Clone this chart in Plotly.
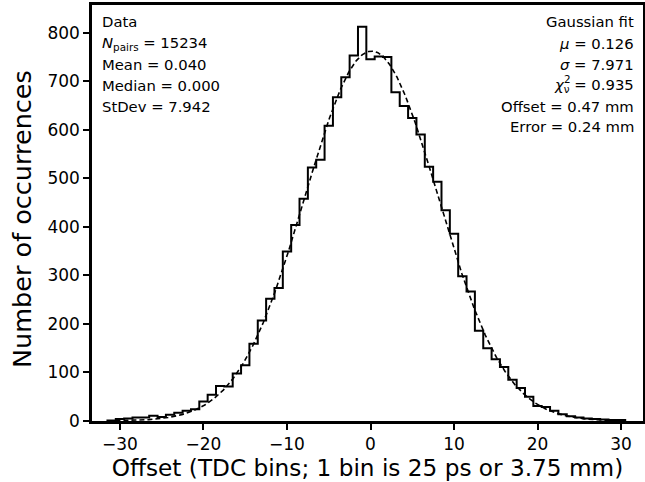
import numpy as np
import plotly.graph_objects as go

# ---- data ----
bin_centers = list(range(-31, 31))
counts = [1, 4, 5, 7, 7, 11, 8, 13, 17, 21, 24, 40, 54, 72, 71, 98, 115, 159, 207, 252,
          274, 349, 404, 458, 522, 538, 608, 667, 708, 753, 812, 745, 751, 750, 677, 649,
          624, 590, 524, 493, 434, 386, 298, 267, 186, 150, 127, 111, 85, 68, 50, 31,
          29, 21, 14, 10, 7, 5, 4, 3, 2, 2]
bin_width = 1.0

# Gaussian fit parameters (from the legend text)
fit_mu = 0.126
fit_sigma = 7.971
fit_amp = 762.0

left_text = ["Data", "<i>N</i><sub>pairs</sub> = 15234", "Mean = 0.040",
             "Median = 0.000", "StDev = 7.942"]
right_text = ["Gaussian fit", "<i>μ</i> = 0.126", "<i>σ</i> = 7.971",
              "<i>χ</i><sub>ν</sub> = 0.935", "Offset = 0.47 mm", "Error = 0.24 mm"]

x_ticks = [-30, -20, -10, 0, 10, 20, 30]
y_ticks = [0, 100, 200, 300, 400, 500, 600, 700, 800]

# ---- build step outline ----
centers = np.array(bin_centers, dtype=float)
c = np.array(counts, dtype=float)
edges = np.append(centers - bin_width / 2, centers[-1] + bin_width / 2)
sx = np.concatenate([[edges[0]], edges])
sy = np.concatenate([[0.0], c, [0.0]])

xf = np.linspace(edges[0], edges[-1], 600)
yf = fit_amp * np.exp(-0.5 * ((xf - fit_mu) / fit_sigma) ** 2)

fig = go.Figure()
fig.add_trace(go.Scatter(x=sx, y=sy, mode="lines", line=dict(shape="hv", color="black", width=2),
                         showlegend=False, hoverinfo="skip"))
fig.add_trace(go.Scatter(x=xf, y=yf, mode="lines", line=dict(color="black", width=1.6, dash="5px,3px"),
                         showlegend=False, hoverinfo="skip"))

font = "DejaVu Sans"
fs = 14.8
left_px, right_px, top_px, bot_px = 92, 643, 5, 421
w = right_px - left_px
h = bot_px - top_px
line_y = [22, 43, 64, 85, 106, 127]
for i, t in enumerate(left_text):
    fig.add_annotation(x=0.0145, y=(bot_px - line_y[i]) / h, xref="paper", yref="paper",
                       text=t, showarrow=False, xanchor="left", yanchor="middle",
                       font=dict(family=font, size=fs, color="black"))
rx = 0.988
for i, t in enumerate(right_text):
    fig.add_annotation(x=rx, y=(bot_px - line_y[i]) / h, xref="paper", yref="paper",
                       text=t, showarrow=False, xanchor="right", yanchor="middle",
                       font=dict(family=font, size=fs, color="black"))
# superscript "2" stacked above the nu subscript of chi^2_nu
eq_w = 4.336 * fs          # width of " = 0.935"
sub_w = 0.592 * 0.7 * fs   # width of nu subscript
x2_px = left_px + rx * w - eq_w - sub_w - 4
fig.add_annotation(x=(x2_px - left_px) / w, y=(bot_px - (line_y[3] - 6)) / h, xref="paper", yref="paper",
                   text="2", showarrow=False, xanchor="left", yanchor="middle",
                   font=dict(family=font, size=fs * 0.7, color="black"))

# y-axis title placed as rotated annotation
fig.add_annotation(x=(22 - left_px) / w, y=(bot_px - 219) / h, xref="paper", yref="paper",
                   text="Number of occurrences", textangle=-90, showarrow=False,
                   xanchor="center", yanchor="middle",
                   font=dict(family=font, size=25.5, color="black"))

fig.update_layout(
    width=645, height=482,
    margin=dict(l=left_px, r=645 - right_px, t=top_px, b=482 - bot_px, autoexpand=False),
    paper_bgcolor="white", plot_bgcolor="white",
    font=dict(family=font, color="black"),
    xaxis=dict(range=[-33.35, 32.63], tickvals=x_ticks, ticks="outside", ticklen=6, tickwidth=2,
               tickcolor="black", showline=True, linewidth=2.5, linecolor="black", mirror=True,
               showgrid=False, zeroline=False, tickfont=dict(size=17), automargin=False,
               title=dict(text="Offset (TDC bins; 1 bin is 25 ps or 3.75 mm)", font=dict(size=23.2), standoff=2)),
    yaxis=dict(range=[0, 857], tickvals=y_ticks, ticks="outside", ticklen=6, tickwidth=2,
               tickcolor="black", showline=True, linewidth=2.5, linecolor="black", mirror=True,
               showgrid=False, zeroline=False, tickfont=dict(size=17), automargin=False),
)

fig.write_html("out.html", config={"displayModeBar": False},
               post_script="document.body.style.margin='0';document.body.style.padding='0';document.body.style.overflow='hidden';")
